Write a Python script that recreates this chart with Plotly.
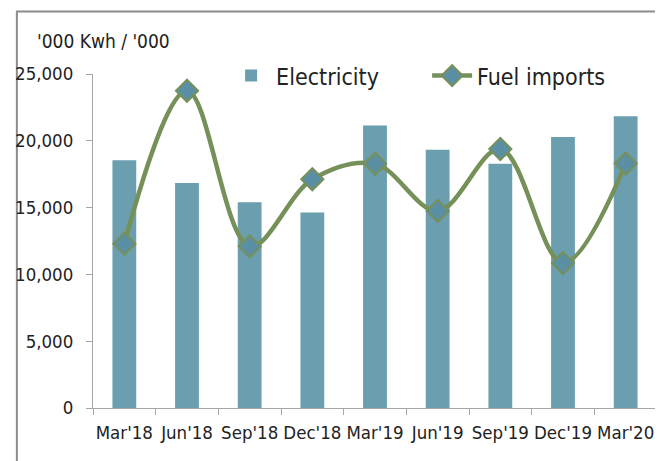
import plotly.graph_objects as go

categories = ["Mar'18", "Jun'18", "Sep'18", "Dec'18", "Mar'19", "Jun'19", "Sep'19", "Dec'19", "Mar'20"]
electricity = [18550, 16850, 15400, 14630, 21150, 19330, 18280, 20290, 21830]
fuel_imports = [12300, 23750, 12100, 17120, 18280, 14750, 19380, 10850, 18300]
y_ticks = [0, 5000, 10000, 15000, 20000, 25000]
y_tick_labels = ["0", "5,000", "10,000", "15,000", "20,000", "25,000"]

FONT = "DejaVu Sans Condensed, Liberation Sans Narrow, sans-serif"
BAR_COLOR = "#6B9EAF"
LINE_COLOR = "#76905A"
MARKER_FILL = "#5B8FA3"

fig = go.Figure()
fig.add_trace(go.Bar(
    x=categories, y=electricity, name="Electricity",
    marker=dict(color=BAR_COLOR, line=dict(width=0)),
))
fig.add_trace(go.Scatter(
    x=categories, y=fuel_imports, name="Fuel imports",
    mode="lines+markers",
    line=dict(color=LINE_COLOR, width=4.5, shape="spline", smoothing=1.0),
    marker=dict(symbol="diamond", size=17, color=MARKER_FILL,
                line=dict(color=LINE_COLOR, width=2)),
))

fig.update_layout(
    width=663, height=461,
    margin=dict(l=85, r=14, t=66, b=61, autoexpand=False),
    paper_bgcolor="white", plot_bgcolor="white",
    bargap=0.62,
    font=dict(family=FONT, size=16, color="#222222"),
    showlegend=True,
    legend=dict(
        orientation="h", x=0.236, y=0.995, xanchor="left", yanchor="middle",
        font=dict(size=23, family=FONT, color="#222222"),
        bgcolor="rgba(0,0,0,0)", itemwidth=40, traceorder="normal",
        entrywidth=146, entrywidthmode="pixels",
    ),
    xaxis=dict(
        type="category", range=[-0.5, len(categories) - 0.5],
        showline=True, linecolor="#A6A6A6", linewidth=1,
        ticks="outside", tickson="boundaries", ticklen=6, tickcolor="#A6A6A6",
        showgrid=False, tickangle=0, automargin=False, ticklabelstandoff=8,
        tickfont=dict(size=18.5, family=FONT, color="#222222"),
        fixedrange=True,
    ),
    yaxis=dict(
        range=[0, 25000], tickvals=y_ticks, ticktext=y_tick_labels,
        showline=True, linecolor="#A6A6A6", linewidth=1,
        ticks="outside", ticklen=6, tickcolor="#A6A6A6",
        showgrid=False, zeroline=False, automargin=False, ticklabelstandoff=9,
        tickfont=dict(size=18.5, family=FONT, color="#222222"),
        fixedrange=True,
    ),
    annotations=[dict(
        text="'000 Kwh / '000", xref="paper", yref="paper",
        x=-0.102, y=1.0, xanchor="left", yanchor="bottom", yshift=20,
        showarrow=False, font=dict(size=19, family=FONT, color="#222222"),
    )],
    shapes=[dict(
        type="rect", xref="paper", yref="paper",
        x0=-0.135, x1=1.05, y0=-0.2, y1=1.187,
        line=dict(color="#8C8C8C", width=2), layer="below",
    )],
)

fig.write_html("out.html")
